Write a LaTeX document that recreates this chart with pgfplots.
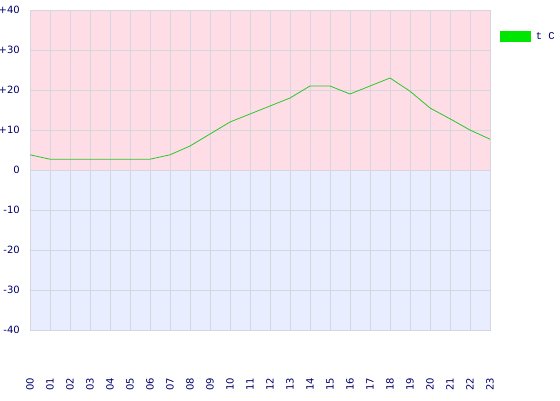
\documentclass[border=0pt]{standalone}
\usepackage{fontspec}
\setmainfont{DejaVu Sans}
\newfontfamily\monofont{Liberation Mono}
\usepackage{pgfplots}
\pgfplotsset{compat=1.18}
\definecolor{pinkbg}{RGB}{255,221,231}
\definecolor{bluebg}{RGB}{232,238,255}
\definecolor{gridc}{RGB}{214,214,222}
\definecolor{navy}{RGB}{0,0,110}
\definecolor{tline}{RGB}{40,200,40}
\definecolor{legg}{RGB}{0,230,0}

\begin{document}
\begin{tikzpicture}
\begin{axis}[
  set layers,
  at={(0pt,0pt)}, anchor=south west,
  scale only axis, width=460pt, height=320pt,
  xmin=0, xmax=23, ymin=-40, ymax=40,
  xtick={0,...,23},
  xticklabels={00,01,02,03,04,05,06,07,08,09,10,11,12,13,14,15,16,17,18,19,20,21,22,23},
  ytick={-40,-30,...,40},
  yticklabels={-40,-30,-20,-10,0,+10,+20,+30,+40},
  major tick length=0pt,
  grid=major,
  grid style={gridc, line width=0.6pt},
  axis line style={gridc, line width=0.8pt},
  tick label style={font=\fontsize{10}{10}\selectfont, text=navy, inner sep=0pt},
  yticklabel style={anchor=east, xshift=-10pt},
  xticklabel style={yshift=-48pt, rotate=90, anchor=east},
  legend style={draw=none, fill=none, at={(1,1)}, anchor=north west,
    xshift=10pt, yshift=-20pt, inner sep=0pt, outer sep=0pt,
    font=\fontsize{10.5}{10}\selectfont, text=navy},
  legend image code/.code={\fill[legg] (0pt,-5pt) rectangle (30pt,5pt);},
]
\begin{pgfonlayer}{axis background}
\fill[pinkbg] (axis cs:0,0) rectangle (axis cs:23,40);
\fill[bluebg] (axis cs:0,-40) rectangle (axis cs:23,0);
\end{pgfonlayer}
\addplot[tline, line width=0.8pt] coordinates {
(0,3.8) (1,2.7) (2,2.7) (3,2.7) (4,2.7) (5,2.7) (6,2.7) (7,3.8)
(8,6) (9,9) (10,12) (11,14) (12,16) (13,18) (14,21) (15,21)
(16,19) (17,21) (18,23) (19,19.7) (20,15.5) (21,12.8) (22,10) (23,7.7)
};
\addlegendentry{\hspace{3pt}\monofont t C}
\end{axis}
\pgfresetboundingbox
\path (-30pt,-70pt) rectangle (530pt,330pt);
\end{tikzpicture}
\end{document}
